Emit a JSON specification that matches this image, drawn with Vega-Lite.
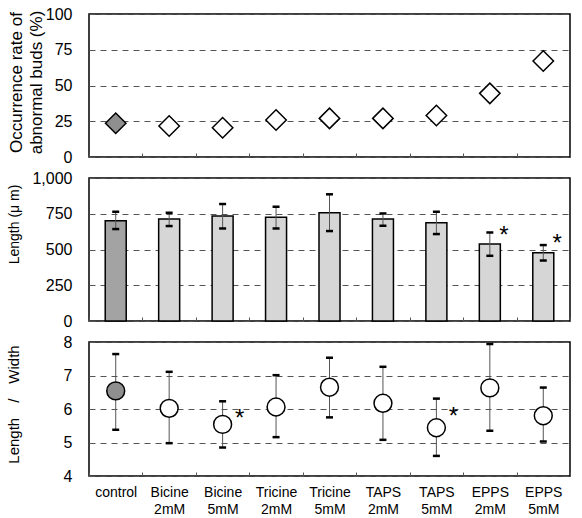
{
  "$schema": "https://vega.github.io/schema/vega-lite/v6.json",
  "background": "white",
  "padding": {"left": 5, "top": 5, "right": 3, "bottom": 5},
  "config": {
    "font": "Liberation Sans",
    "view": {"stroke": "#000", "strokeWidth": 1.5},
    "axis": {"domain": false, "labelFont": "Liberation Sans", "titleFont": "Liberation Sans", "titleFontWeight": "normal", "labelColor": "#000", "titleColor": "#000"},
    "axisY": {"grid": true, "gridDash": [6, 5], "gridColor": "#555", "gridWidth": 1, "ticks": false, "tickSize": 0, "labelFontSize": 16, "labelPadding": 17, "titleFontSize": 14, "titleAngle": -90},
    "axisX": {"grid": false, "ticks": true, "tickSize": -4, "tickColor": "#555", "tickBand": "extent", "labelAngle": 0, "labelFontSize": 14, "labelPadding": 13, "title": null}
  },
  "resolve": {"scale": {"fill": "independent"}},
  "datasets": {
    "main": [
      {"cond": "control", "group": "control", "pct": 23.6, "len": 701, "lenLo": 643, "lenHi": 764, "ratio": 6.54, "ratioLo": 5.38, "ratioHi": 7.64},
      {"cond": "Bicine 2mM", "group": "treated", "pct": 21.7, "len": 713, "lenLo": 664, "lenHi": 757, "ratio": 6.02, "ratioLo": 4.98, "ratioHi": 7.11},
      {"cond": "Bicine 5mM", "group": "treated", "pct": 20.5, "len": 734, "lenLo": 647, "lenHi": 818, "ratio": 5.54, "ratioLo": 4.85, "ratioHi": 6.23},
      {"cond": "Tricine 2mM", "group": "treated", "pct": 25.9, "len": 725, "lenLo": 647, "lenHi": 799, "ratio": 6.06, "ratioLo": 5.16, "ratioHi": 7.01},
      {"cond": "Tricine 5mM", "group": "treated", "pct": 27.0, "len": 757, "lenLo": 629, "lenHi": 886, "ratio": 6.65, "ratioLo": 5.75, "ratioHi": 7.53},
      {"cond": "TAPS 2mM", "group": "treated", "pct": 27.0, "len": 713, "lenLo": 666, "lenHi": 752, "ratio": 6.17, "ratioLo": 5.08, "ratioHi": 7.26},
      {"cond": "TAPS 5mM", "group": "treated", "pct": 29.0, "len": 687, "lenLo": 608, "lenHi": 764, "ratio": 5.44, "ratioLo": 4.60, "ratioHi": 6.31},
      {"cond": "EPPS 2mM", "group": "treated", "pct": 44.5, "len": 538, "lenLo": 456, "lenHi": 619, "ratio": 6.63, "ratioLo": 5.35, "ratioHi": 7.94},
      {"cond": "EPPS 5mM", "group": "treated", "pct": 67.1, "len": 477, "lenLo": 423, "lenHi": 531, "ratio": 5.80, "ratioLo": 5.03, "ratioHi": 6.64}
    ],
    "starsLen": [
      {"cond": "EPPS 2mM", "y": 636},
      {"cond": "EPPS 5mM", "y": 580}
    ],
    "starsRatio": [
      {"cond": "Bicine 5mM", "y": 5.89},
      {"cond": "TAPS 5mM", "y": 5.93}
    ]
  },
  "spacing": 21,
  "bounds": "flush",
  "vconcat": [
    {
      "width": 481,
      "height": 143,
      "data": {"name": "main"},
      "mark": {"type": "point", "shape": "diamond", "filled": true, "size": 420, "stroke": "#000", "strokeWidth": 1.5, "opacity": 1},
      "encoding": {
        "x": {"field": "cond", "type": "nominal", "sort": null, "scale": {"type": "band", "domain": ["control", "Bicine 2mM", "Bicine 5mM", "Tricine 2mM", "Tricine 5mM", "TAPS 2mM", "TAPS 5mM", "EPPS 2mM", "EPPS 5mM"], "paddingInner": 0, "paddingOuter": 0}, "axis": {"labels": false, "title": null}},
        "y": {"field": "pct", "type": "quantitative", "scale": {"domain": [0, 100]}, "axis": {"values": [0, 25, 50, 75, 100], "title": ["Occurrence rate of", "abnormal buds (%)"], "titleFontSize": 17, "titleLineHeight": 20, "titleX": -64, "titleY": 68}},
        "fill": {"field": "group", "type": "nominal", "scale": {"domain": ["control", "treated"], "range": ["#8f8f8f", "#ffffff"]}, "legend": null}
      }
    },
    {
      "width": 481,
      "height": 143,
      "encoding": {
        "x": {"field": "cond", "type": "nominal", "sort": null, "scale": {"type": "band", "domain": ["control", "Bicine 2mM", "Bicine 5mM", "Tricine 2mM", "Tricine 5mM", "TAPS 2mM", "TAPS 5mM", "EPPS 2mM", "EPPS 5mM"], "paddingInner": 0, "paddingOuter": 0}, "axis": {"labels": false, "title": null}}
      },
      "layer": [
        {
          "data": {"name": "main"},
          "mark": {"type": "bar", "width": 21, "stroke": "#000", "strokeWidth": 1.5},
          "encoding": {
            "y": {"field": "len", "type": "quantitative", "scale": {"domain": [0, 1000]}, "axis": {"values": [0, 250, 500, 750, 1000], "format": ",.0f", "title": "Length  (μ m)", "titleX": -68, "titleY": 46}},
            "fill": {"field": "group", "type": "nominal", "scale": {"domain": ["control", "treated"], "range": ["#a3a3a3", "#d6d6d6"]}, "legend": null}
          }
        },
        {
          "data": {"name": "main"},
          "mark": {"type": "rule", "color": "#555", "strokeWidth": 1},
          "encoding": {"y": {"field": "lenLo", "type": "quantitative", "scale": {"domain": [0, 1000]}, "axis": {"values": [0, 250, 500, 750, 1000], "format": ",.0f", "title": "Length  (μ m)", "titleX": -68, "titleY": 46}}, "y2": {"field": "lenHi"}}
        },
        {
          "data": {"name": "main"},
          "mark": {"type": "tick", "color": "#000", "size": 7, "thickness": 2.5, "opacity": 1},
          "encoding": {"y": {"field": "lenHi", "type": "quantitative", "scale": {"domain": [0, 1000]}, "axis": {"values": [0, 250, 500, 750, 1000], "format": ",.0f", "title": "Length  (μ m)", "titleX": -68, "titleY": 46}}}
        },
        {
          "data": {"name": "main"},
          "mark": {"type": "tick", "color": "#000", "size": 7, "thickness": 2.5, "opacity": 1},
          "encoding": {"y": {"field": "lenLo", "type": "quantitative", "scale": {"domain": [0, 1000]}, "axis": {"values": [0, 250, 500, 750, 1000], "format": ",.0f", "title": "Length  (μ m)", "titleX": -68, "titleY": 46}}}
        },
        {
          "data": {"name": "starsLen"},
          "mark": {"type": "text", "text": "*", "fontSize": 24, "dx": 14, "dy": 13, "baseline": "alphabetic", "color": "#000"},
          "encoding": {"y": {"field": "y", "type": "quantitative", "scale": {"domain": [0, 1000]}, "axis": {"values": [0, 250, 500, 750, 1000], "format": ",.0f", "title": "Length  (μ m)", "titleX": -68, "titleY": 46}}}
        }
      ]
    },
    {
      "width": 481,
      "height": 134,
      "encoding": {
        "x": {"field": "cond", "type": "nominal", "sort": null, "scale": {"type": "band", "domain": ["control", "Bicine 2mM", "Bicine 5mM", "Tricine 2mM", "Tricine 5mM", "TAPS 2mM", "TAPS 5mM", "EPPS 2mM", "EPPS 5mM"], "paddingInner": 0, "paddingOuter": 0}, "axis": {"labelExpr": "split(datum.label, ' ')", "labelLineHeight": 17, "labelBaseline": "top", "title": null}}
      },
      "layer": [
        {
          "data": {"name": "main"},
          "mark": {"type": "rule", "color": "#555", "strokeWidth": 1},
          "encoding": {
            "y": {"field": "ratioLo", "type": "quantitative", "scale": {"domain": [4, 8]}, "axis": {"values": [4, 5, 6, 7, 8], "title": "Length　/　Width", "titleFontSize": 15, "titleX": -68, "titleY": 62}},
            "y2": {"field": "ratioHi"}
          }
        },
        {
          "data": {"name": "main"},
          "mark": {"type": "tick", "color": "#000", "size": 7, "thickness": 2.5, "opacity": 1},
          "encoding": {"y": {"field": "ratioHi", "type": "quantitative", "scale": {"domain": [4, 8]}, "axis": {"values": [4, 5, 6, 7, 8], "title": "Length　/　Width", "titleFontSize": 15, "titleX": -68, "titleY": 62}}}
        },
        {
          "data": {"name": "main"},
          "mark": {"type": "tick", "color": "#000", "size": 7, "thickness": 2.5, "opacity": 1},
          "encoding": {"y": {"field": "ratioLo", "type": "quantitative", "scale": {"domain": [4, 8]}, "axis": {"values": [4, 5, 6, 7, 8], "title": "Length　/　Width", "titleFontSize": 15, "titleX": -68, "titleY": 62}}}
        },
        {
          "data": {"name": "main"},
          "mark": {"type": "point", "shape": "circle", "filled": true, "size": 320, "stroke": "#000", "strokeWidth": 1.5, "opacity": 1},
          "encoding": {
            "y": {"field": "ratio", "type": "quantitative", "scale": {"domain": [4, 8]}, "axis": {"values": [4, 5, 6, 7, 8], "title": "Length　/　Width", "titleFontSize": 15, "titleX": -68, "titleY": 62}},
            "fill": {"field": "group", "type": "nominal", "scale": {"domain": ["control", "treated"], "range": ["#8f8f8f", "#ffffff"]}, "legend": null}
          }
        },
        {
          "data": {"name": "starsRatio"},
          "mark": {"type": "text", "text": "*", "fontSize": 24, "dx": 17, "dy": 13, "baseline": "alphabetic", "color": "#000"},
          "encoding": {"y": {"field": "y", "type": "quantitative", "scale": {"domain": [4, 8]}, "axis": {"values": [4, 5, 6, 7, 8], "title": "Length　/　Width", "titleFontSize": 15, "titleX": -68, "titleY": 62}}}
        }
      ]
    }
  ]
}
